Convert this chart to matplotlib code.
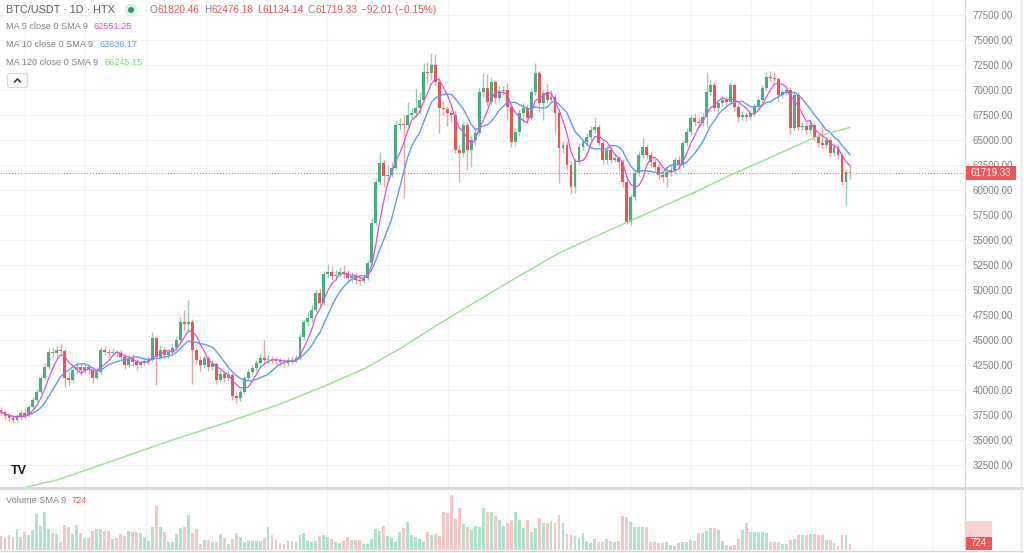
"""
BTC/USDT daily candles (HTX) with MA 5 / 10 / 120 and a volume pane,
redrawn in a TradingView-like style.
"""

import matplotlib
matplotlib.use("Agg")
import matplotlib.pyplot as plt
from matplotlib.patches import Circle, FancyBboxPatch, Rectangle
import numpy as np
import pandas as pd

W, H = 1024, 553
FONT = "Liberation Sans"

# ---------------------------------------------------------------------------
# Data
# ---------------------------------------------------------------------------
FIRST_OPEN = 38000

CLOSES = [
    37800, 37400, 37200, 37000, 37300, 37700, 37500, 38300, 39000, 39800,
    41200, 42300, 43800, 43700, 44000, 43900, 41200, 41000, 42000, 42300,
    42000, 42300, 42000, 41200, 41800, 44000, 43800, 43700, 43800, 43700,
    43300, 42500, 43200, 42800, 42500, 42700, 42900, 43000, 45200, 43300,
    44000, 43500, 43800, 44200, 45000, 46800, 46600, 46800, 44000, 43000,
    42500, 43200, 42300, 42600, 41000, 41600, 41200, 41500, 39400, 39200,
    39800, 41200, 41800, 42200, 42700, 43200, 43000, 43100, 43000, 42900,
    42800, 42700, 43000, 42900, 43200, 45300, 46800, 47200, 48000, 49700,
    48700, 51600, 51800, 51400, 51500, 51800, 51700, 51200, 51400, 51000,
    50900, 51200, 52700, 56700, 60800, 62700, 61400, 61500, 62200, 66500,
    66600, 66500, 67500, 67700, 68200, 69000, 71800, 71700, 72500, 70800,
    68200, 68100, 67700, 67500, 64000, 63700, 66500, 64000, 65000, 65700,
    69800, 70200, 68800, 70800, 69200, 69900, 70000, 68300, 64800, 65800,
    67700, 68200, 67200, 69800, 71700, 68700, 69700, 69000, 69300, 67700,
    64200, 64500, 62500, 60300, 62800, 64300, 64800, 65300, 66000, 66300,
    64700, 63000, 64000, 63000, 63200, 62800, 60800, 56800, 59300, 61700,
    63500, 64300, 63500, 62800, 62300, 61500, 61300, 61800, 62000, 63000,
    62500, 64700, 65800, 67200, 66800, 66700, 67300, 69800, 70500, 68200,
    68700, 69000, 68800, 70500, 68300, 67300, 67500, 67300, 67700, 68300,
    69000, 70200, 71300, 71200, 71100, 69500, 69800, 70000, 66200, 69500,
    66300, 66400, 66000, 66500, 65300, 64700, 64500, 65000, 63700, 64300,
    63500, 60800, 61820.46, 61719.33,
]

HIGHS = [
    38300, 38000, 37700, 37500, 37600, 38000, 38100, 38600, 39300, 40100,
    41500, 42700, 44200, 44300, 44400, 44700, 44100, 41800, 42400, 42800,
    42700, 42600, 42600, 42300, 42300, 44300, 44400, 44100, 44200, 44000,
    44000, 43700, 43500, 43600, 43100, 43000, 43300, 43400, 45800, 45300,
    44500, 44300, 44100, 44600, 45400, 47300, 48000, 49000, 47100, 44300,
    43400, 43500, 43500, 43000, 42800, 42000, 41900, 41900, 41700, 39800,
    40100, 41400, 42100, 42500, 43000, 43600, 45000, 43500, 43400, 43300,
    43200, 43100, 43300, 43400, 43500, 45600, 47100, 47900, 48500, 50000,
    50200, 51900, 52600, 52400, 52000, 52300, 52500, 52000, 51800, 51700,
    51300, 51600, 53000, 57200, 61200, 63800, 63000, 62500, 62800, 67000,
    67200, 67500, 68800, 68200, 70200, 69800, 72700, 72800, 73700, 73600,
    71300, 68900, 68400, 68000, 67900, 64500, 66900, 66800, 65500, 66200,
    70200, 71700, 71600, 71300, 71000, 70400, 70400, 70700, 68700, 66200,
    68100, 68700, 68600, 70200, 72700, 71900, 70100, 70600, 70000, 69600,
    68000, 64900, 64900, 62900, 63200, 64700, 65100, 65700, 66400, 67300,
    66600, 65000, 64500, 64300, 63600, 63500, 63100, 61200, 59600, 62000,
    63900, 65200, 64600, 63800, 63100, 62600, 61900, 62200, 62500, 63300,
    63400, 65000, 66200, 67600, 67700, 67200, 67700, 71800, 70900, 70800,
    69000, 69400, 69300, 70800, 70700, 68600, 67900, 67800, 68000, 68600,
    69300, 70500, 71700, 71900, 71800, 71300, 70100, 70300, 70300, 69800,
    69800, 66800, 66700, 67000, 66700, 65600, 66600, 65300, 65300, 64600,
    64500, 63800, 62100, 62476.18,
]

LOWS = [
    37500, 37000, 36900, 36700, 36800, 37100, 37200, 37300, 38100, 38800,
    39600, 41000, 42100, 43300, 43200, 43500, 40300, 40400, 40800, 41600,
    41500, 41700, 41600, 40700, 41000, 41600, 43500, 43300, 43400, 43300,
    43000, 42100, 42300, 42400, 42000, 42300, 42500, 42600, 42800, 40500,
    43100, 43100, 43200, 43500, 44000, 44800, 46000, 45800, 40600, 42600,
    41900, 42200, 41900, 42000, 40600, 40800, 40800, 40900, 39000, 38700,
    38900, 39600, 41000, 41500, 41900, 42400, 42700, 42600, 42700, 42500,
    42400, 42300, 42400, 42600, 42700, 43000, 45000, 46400, 46800, 47800,
    48300, 48500, 51300, 51000, 51000, 51300, 51200, 50800, 50800, 50600,
    50500, 50700, 51000, 52500, 56500, 60500, 60300, 60900, 61300, 62000,
    66000, 59200, 66200, 67100, 67300, 67600, 68800, 70800, 71000, 70500,
    65700, 67500, 66400, 66800, 63700, 60800, 63300, 62000, 62300, 64400,
    65500, 69300, 68400, 68500, 68700, 68900, 69500, 67000, 64300, 64400,
    65500, 66800, 66600, 67000, 69500, 67800, 67000, 68700, 68800, 65700,
    60700, 63700, 62000, 59600, 59700, 62500, 64000, 64500, 64900, 65700,
    64400, 62600, 62600, 62700, 62800, 62000, 60300, 56600, 56500, 59000,
    61400, 63200, 63100, 62300, 61900, 61100, 60800, 60300, 61400, 61700,
    62100, 62300, 64400, 65500, 66400, 66300, 66400, 66200, 69500, 67900,
    67800, 68300, 68400, 68500, 67900, 66800, 67000, 66900, 67000, 67400,
    68000, 68800, 69900, 70900, 70700, 68800, 69200, 69500, 65600, 66000,
    66000, 66000, 65600, 65700, 64900, 64300, 64200, 64200, 63300, 63400,
    63100, 60500, 58500, 61134.14,
]

VOLUMES = [
    1680, 1440, 1800, 1560, 2520, 1560, 2160, 1800, 2400, 4320,
    2880, 4560, 2520, 2040, 1920, 960, 3000, 2760, 1920, 3000,
    2040, 1440, 1440, 2280, 2520, 2520, 2280, 2280, 1320, 1440,
    1920, 1680, 2280, 2160, 2160, 2040, 1560, 1080, 2760, 5280,
    2760, 2160, 960, 960, 1920, 2640, 2760, 4200, 2040, 2520,
    720, 1200, 1200, 960, 960, 1920, 1440, 720, 1320, 2040,
    1560, 960, 1080, 1080, 1080, 1080, 1440, 2760, 1800, 1200,
    840, 720, 1200, 1080, 960, 1800, 2040, 1080, 960, 1080,
    1680, 1800, 1560, 1320, 960, 840, 1080, 1560, 1200, 1200,
    1200, 720, 720, 1320, 2520, 2280, 2880, 1680, 1440, 960,
    2160, 2640, 3360, 1800, 1560, 1320, 960, 2160, 1800, 1920,
    1680, 4560, 4440, 6600, 3720, 5040, 3120, 2760, 2400, 2880,
    2760, 5040, 4560, 4560, 4080, 3600, 2880, 3240, 3600, 4560,
    3600, 2640, 3600, 2160, 2640, 3840, 3240, 3240, 3480, 3240,
    4200, 3240, 1920, 1800, 1680, 1440, 2040, 1080, 840, 1320,
    960, 960, 1320, 1080, 960, 1080, 4080, 3960, 3360, 2760,
    2760, 2760, 2760, 960, 960, 840, 840, 960, 600, 480,
    840, 960, 960, 1200, 1080, 2040, 2040, 2280, 2640, 2640,
    2400, 1080, 600, 480, 600, 1320, 2400, 3240, 2160, 2160,
    2160, 2160, 2040, 960, 960, 960, 720, 720, 1200, 1320,
    1800, 1800, 1800, 1920, 1920, 1800, 1800, 1200, 1200, 840,
    480, 1800, 1800, 724,
]

# MA 120 cannot be rebuilt from the visible closes, so it is read off the line
MA120_IDX = [0, 7, 14, 25, 43, 57, 70, 80, 91, 100, 109, 119, 130, 140,
             148, 155, 164, 175, 183, 193, 203, 208, 213]
MA120_VAL = [29600, 30350, 31000, 32500, 35000, 36800, 38600, 40200, 42100,
             44100, 46400, 48800, 51400, 53700, 55150, 56400, 58000, 59950,
             61500, 63250, 65050, 65750, 66245.15]

PRICE_TICKS = list(range(32500, 77501, 2500))

TITLE = "BTC/USDT · 1D · HTX"
OHLC = [("O", "61820.46"), ("H", "62476.18"), ("L", "61134.14"),
        ("C", "61719.33")]
CHANGE = "−92.01 (−0.15%)"
MA_LABELS = ["MA 5 close 0 SMA 9", "MA 10 close 0 SMA 9",
             "MA 120 close 0 SMA 9"]
MA_VALUES = ["62551.25", "63636.17", "66245.15"]
LAST_PRICE = 61719.33
LAST_VOLUME = "724"

# ---------------------------------------------------------------------------
# Style
# ---------------------------------------------------------------------------
GREEN = "#4aad7e"
RED = "#ec5453"
VOL_GREEN = "#ade2cd"
VOL_RED = "#f8c5c5"
MA5_C = "#e14fd8"
MA10_C = "#5c9cf5"
MA120_C = "#8ee48a"
TEXT_GREY = "#7d808a"
TITLE_GREY = "#575b66"
GRID = "#f1f2f5"
LINE = "#d3d6dd"

STEP = 849 / 213          # px per candle
X0 = -1 / STEP            # left edge of the panes, in candle units
X1 = 964 / STEP           # price-scale edge, in candle units


def put_pieces(ov, x, y, pieces, size):
    """Write coloured text pieces one after another from pixel x."""
    r = ov.figure.canvas.get_renderer()
    for s, color, gap in pieces:
        t = ov.text(x, y, s, color=color, fontsize=size, va="center",
                    ha="left")
        x += t.get_window_extent(r).width + gap
    return x


def main():
    plt.rcParams["font.family"] = [FONT, "DejaVu Sans"]
    fig = plt.figure(figsize=(W / 100, H / 100), dpi=100)
    fig.patch.set_facecolor("white")

    close = np.array(CLOSES, float)
    opens = np.r_[FIRST_OPEN, close[:-1]]
    highs = np.array(HIGHS, float)
    lows = np.array(LOWS, float)
    idx = np.arange(len(close))
    assert len(highs) == len(lows) == len(VOLUMES) == len(close)
    up = close >= opens

    grid_x = 6 + 15.18 * np.arange(16)

    # ---- price pane ----
    ax = fig.add_axes([0, (H - 487) / H, 965 / W, 487 / H])
    ax.set_xlim(X0, X1)
    ax.set_ylim(30300, 79000)
    for s in ("top", "left", "bottom"):
        ax.spines[s].set_visible(False)
    ax.spines["right"].set_color(LINE)
    ax.yaxis.tick_right()
    ax.set_yticks(PRICE_TICKS)
    ax.yaxis.set_major_formatter(lambda v, p: f"{v:.2f}")
    ax.tick_params(axis="y", length=0, pad=5.5, labelsize=7,
                   labelcolor=TEXT_GREY)
    ax.set_xticks(grid_x)
    ax.tick_params(axis="x", length=0, labelbottom=False)
    ax.grid(True, color=GRID, lw=0.8)
    ax.set_axisbelow(True)

    wick_c = np.where(up, "#93cfb2", "#f2a2a1")
    ax.vlines(idx, lows, highs, colors=wick_c, lw=1, zorder=2)
    body_lo = np.minimum(opens, close)
    body_h = np.maximum(np.abs(close - opens), 70)
    ax.bar(idx, body_h, bottom=body_lo, width=0.72,
           color=np.where(up, GREEN, RED), lw=0, zorder=3)

    s = pd.Series(close)
    ax.plot(idx, s.rolling(10, min_periods=1).mean(), color=MA10_C,
            lw=1, zorder=4)
    ax.plot(idx, s.rolling(5, min_periods=1).mean(), color=MA5_C,
            lw=0.9, zorder=5)
    ax.plot(MA120_IDX, MA120_VAL, color=MA120_C, lw=1, zorder=4)
    ax.axhline(LAST_PRICE, color="#f26b6b", lw=0.8, ls=(0, (1, 1.6)),
               zorder=1)

    # ---- volume pane ----
    av = fig.add_axes([0, 3 / H, 965 / W, 60 / H])
    av.set_xlim(X0, X1)
    av.set_ylim(0, 7200)
    for s_ in ("top", "left", "bottom"):
        av.spines[s_].set_visible(False)
    av.spines["right"].set_color(LINE)
    av.set_yticks([])
    av.set_xticks(grid_x)
    av.tick_params(axis="x", length=0, labelbottom=False)
    av.grid(True, axis="x", color=GRID, lw=0.8)
    av.set_axisbelow(True)
    av.bar(idx, VOLUMES, width=0.72,
           color=np.where(up, VOL_GREEN, VOL_RED), lw=0)

    # ---- overlay in pixel coordinates for labels and chrome ----
    ov = fig.add_axes([0, 0, 1, 1], zorder=10)
    ov.set_xlim(0, W)
    ov.set_ylim(H, 0)
    ov.axis("off")
    ov.patch.set_alpha(0)

    ov.plot([0, W], [488, 488], color=LINE, lw=2)
    ov.plot([0, W], [550.5, 550.5], color=LINE, lw=1)
    ov.plot([1021, 1021], [0, H], color="#e3e5ea", lw=1)

    ov.text(6, 10, TITLE, color=TITLE_GREY, fontsize=7.8, va="center")
    ov.add_patch(Circle((131, 10), 6.5, color="#ddf0e6", lw=0))
    ov.add_patch(Circle((131, 10), 3, color="#2f9c6d", lw=0))
    pieces = []
    for lab, val in OHLC:
        pieces += [(lab, TEXT_GREY, 0), (val, RED, 4)]
    pieces.append((CHANGE, RED, 0))
    put_pieces(ov, 150, 10, pieces, 7.2)

    for lab, val, col, y in zip(MA_LABELS, MA_VALUES,
                                [MA5_C, MA10_C, "#7fd87b"], [26.5, 44.5, 62.5]):
        put_pieces(ov, 6, y, [(lab, TEXT_GREY, 6), (val, col, 0)], 6.6)

    ov.add_patch(FancyBboxPatch((7.5, 73.5), 20, 14,
                                boxstyle="round,pad=0,rounding_size=2.5",
                                fc="white", ec="#d6d8de", lw=0.8))
    ov.plot([14.5, 17.5, 20.5], [82, 79, 82], color="#2a2e39", lw=1.1,
            solid_capstyle="round")

    ov.text(19, 471, "TV", color="#131722", fontsize=9, fontweight="bold",
            ha="center", va="center")

    put_pieces(ov, 6, 500.5, [("Volume SMA 9", TEXT_GREY, 5),
                              (LAST_VOLUME, RED, 0)], 6.6)

    # last price / last volume tags on the scale
    ov.add_patch(Rectangle((966, 166), 50, 14, color="#ef5657", lw=0))
    ov.text(991, 173, f"{LAST_PRICE:.2f}", color="white", fontsize=7,
            ha="center", va="center")
    ov.add_patch(Rectangle((966, 521), 26, 16, color="#f6b4b3", lw=0,
                           alpha=0.6))
    ov.add_patch(Rectangle((966, 537), 26, 13, color="#ef5657", lw=0))
    ov.text(979, 543.5, LAST_VOLUME, color="white", fontsize=7,
            ha="center", va="center")

    fig.savefig("out.png", dpi=100)


if __name__ == "__main__":
    main()
